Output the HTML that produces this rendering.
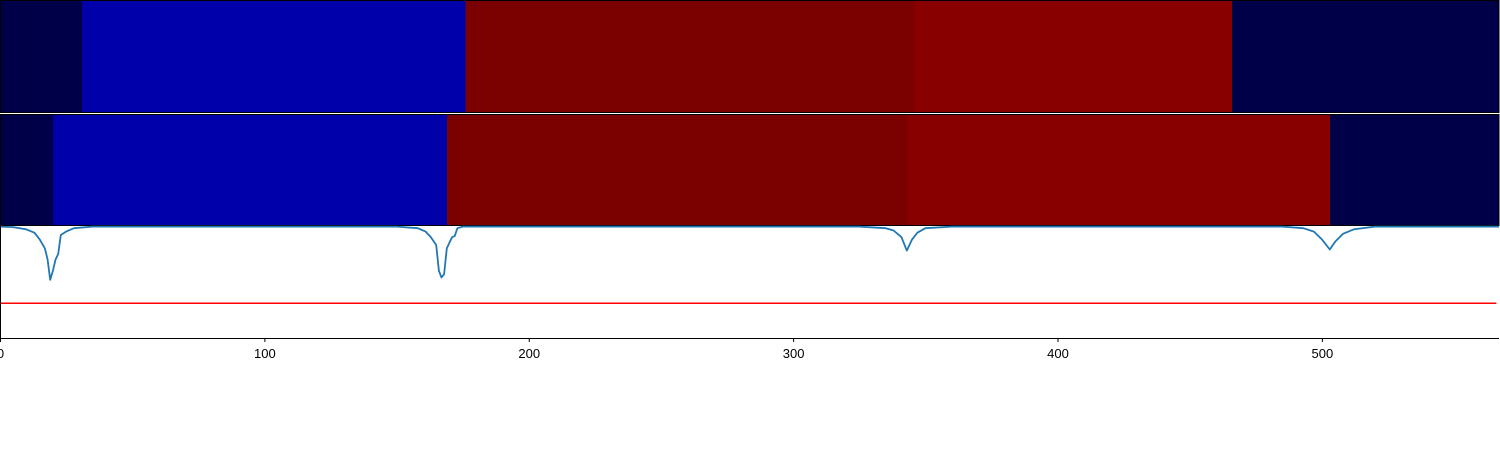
<!DOCTYPE html>
<html><head><meta charset="utf-8"><style>
html,body{margin:0;padding:0;background:#fff;width:1500px;height:450px;overflow:hidden}
text{font-family:"Liberation Sans","DejaVu Sans",sans-serif}
</style></head><body>
<svg id="chart" width="1500" height="450" xmlns="http://www.w3.org/2000/svg"></svg>
<script>
// data
const row1Bounds = [0, 31, 176, 346, 466, 567];
const row1Colors = ["#000048", "#0000aa", "#7b0000", "#880000", "#000048"];
const row2Bounds = [0, 20, 169, 343, 503, 567];
const row2Colors = ["#000048", "#0000aa", "#7b0000", "#880000", "#000048"];
const lineX = [0,5,10,13,15,17,18,19,20,21,22,23,25,28,35,150,158,161,163,165,166,167,168,169,170,171,172,173,175,180,325,335,338,341,343,345,347,350,360,485,493,497,500,503,505,508,512,520,567];
const lineY = [-0.005,-0.01,-0.03,-0.06,-0.12,-0.2,-0.3,-0.48,-0.4,-0.3,-0.25,-0.08,-0.05,-0.02,-0.005,-0.005,-0.02,-0.05,-0.1,-0.17,-0.4,-0.46,-0.43,-0.2,-0.15,-0.1,-0.09,-0.02,-0.005,-0.005,-0.005,-0.02,-0.04,-0.1,-0.22,-0.12,-0.06,-0.02,-0.005,-0.005,-0.02,-0.05,-0.12,-0.21,-0.14,-0.07,-0.03,-0.005,-0.005];
const thresholdY = [-0.69];
const xTicks = [0,100,200,300,400,500];

const NS="http://www.w3.org/2000/svg";
const svg=document.getElementById('chart');
const X0=0,X1=1499,XMIN=0,XMAX=567;
const sx=v=>X0+(v-XMIN)/(XMAX-XMIN)*(X1-X0);
const LT=226,LB=338;
const sy=v=>LT+(0-v)/(1)*(LB-LT);
function mk(tag,attrs){const e=document.createElementNS(NS,tag);for(const k in attrs)e.setAttribute(k,attrs[k]);svg.appendChild(e);return e;}

function row(bounds,colors,top,bot,name){
  for(let i=0;i<colors.length;i++){
    const r=mk('rect',{x:sx(bounds[i]),y:top,width:sx(bounds[i+1])-sx(bounds[i])+0.6,height:bot-top,fill:colors[i],'shape-rendering':'crispEdges'});
    
    
  }
  const f=mk('rect',{x:0.5,y:top+0.5,width:1498,height:bot-top-1,fill:'none',stroke:'#000','stroke-width':1,'shape-rendering':'crispEdges'});
  
  
}
row(row1Bounds,row1Colors,0,113,'heatmap-row-1');
row(row2Bounds,row2Colors,114,226,'heatmap-row-2');

const th=mk('line',{x1:sx(0),x2:sx(566),y1:sy(thresholdY[0]),y2:sy(thresholdY[0]),stroke:'#ff0000','stroke-width':1.5});



const pts=lineX.map((x,i)=>sx(x).toFixed(1)+','+(sy(lineY[i])).toFixed(1)).join(' ');
const pl=mk('polyline',{points:pts,fill:'none',stroke:'#1f77b4','stroke-width':1.8,'stroke-linejoin':'round'});



const ax=mk('path',{d:`M0.5,${LT} V${LB+0.5} H1499`,fill:'none',stroke:'#000','stroke-width':1,'shape-rendering':'crispEdges'});



xTicks.forEach(t=>{
  const x=sx(t)+0.5;
  const tk=mk('line',{x1:x,x2:x,y1:LB,y2:LB+4,stroke:'#000','stroke-width':1});
  
  
  const tx=mk('text',{x:x,y:LB+20,'font-size':13,'text-anchor':'middle',fill:'#000'});
  tx.textContent=t;
  
  
});
</script>
</body></html>
